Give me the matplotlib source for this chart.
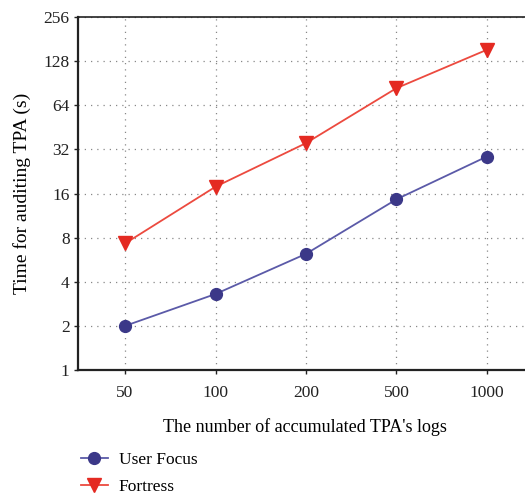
import numpy as np
import matplotlib.pyplot as plt

# data
logs = ["50", "100", "200", "500", "1000"]
user_focus = [2.0, 3.3, 6.2, 14.6, 28.6]
fortress = [7.3, 17.8, 35.3, 83.7, 153.0]
yticks = [1, 2, 4, 8, 16, 32, 64, 128, 256]

plt.rcParams['font.family'] = ['Liberation Serif', 'DejaVu Serif']

fig = plt.figure(figsize=(5.25, 4.97), dpi=100)
ax = fig.add_axes([0.1486, 0.2555, 0.865, 0.7103])

x = np.arange(len(logs))
ax.plot(x, user_focus, color="#5b5aa8", lw=1.3, marker="o", ms=8.5,
        mfc="#3b3888", mec="#3b3888", label="User Focus")
ax.plot(x, fortress, color="#ec4a3f", lw=1.3, marker="v", ms=9.5,
        mfc="#e42a22", mec="#e42a22", label="Fortress")

ax.set_yscale("log", base=2)
ax.set_ylim(1, 256)
ax.set_yticks(yticks)
ax.set_yticklabels([str(v) for v in yticks])
ax.minorticks_off()
ax.set_xlim(-0.52, 4.5)
ax.set_xticks(x)
ax.set_xticklabels(logs)

ax.grid(True, linestyle=(0, (1, 4)), color="#888888", lw=0.9)
ax.tick_params(labelsize=12.5, length=3, width=1, colors="#222222", pad=8)
ax.tick_params(axis="y", pad=3)
for s in ["left", "bottom"]:
    ax.spines[s].set_linewidth(1.6)
    ax.spines[s].set_color("#222222")
ax.spines["top"].set_linewidth(1.2)
ax.spines["top"].set_color("#222222")
ax.spines["right"].set_visible(False)

ax.set_xlabel("The number of accumulated TPA's logs", fontsize=13, labelpad=12)
ax.set_ylabel("Time for auditing TPA (s)", fontsize=14, labelpad=9)

fig.legend(loc="upper left", bbox_to_anchor=(0.137, 0.108), frameon=False,
           fontsize=12.5, handlelength=1.6, handletextpad=0.6, labelspacing=0.62,
           borderpad=0)

fig.savefig("out.png", dpi=100)
